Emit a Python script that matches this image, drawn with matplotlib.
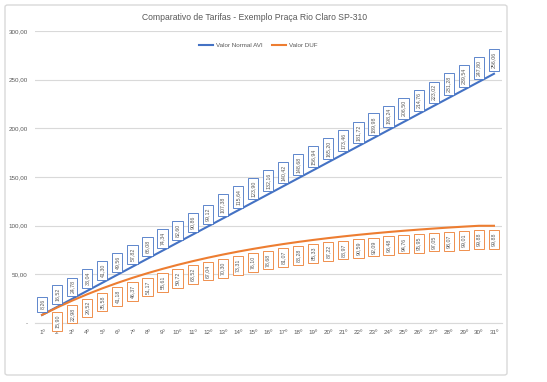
import matplotlib.pyplot as plt
import matplotlib.patches as mpatches

# dados do gráfico
dias = [f"{i}º" for i in range(1, 32)]
valor_avi = [8.26, 16.52, 24.78, 33.04, 41.30, 49.56, 57.82, 66.08, 74.34, 82.60,
             90.86, 99.12, 107.38, 115.64, 123.90, 132.16, 140.42, 148.68, 156.94, 165.20,
             173.46, 181.72, 189.98, 198.24, 206.50, 214.76, 223.02, 231.28, 239.54, 247.80,
             256.06]
valor_duf = [8.26, 15.90, 22.98, 29.52, 35.58, 41.18, 46.37, 51.17, 55.61, 59.72,
             63.52, 67.04, 70.30, 73.31, 76.10, 78.68, 81.07, 83.28, 85.33, 87.22,
             88.97, 90.59, 92.09, 93.48, 94.76, 95.95, 97.05, 98.07, 99.01, 99.88,
             99.88]
yticks = [0, 50, 100, 150, 200, 250, 300]

azul = '#4472C4'
laranja = '#ED7D31'
cinza = '#595959'

plt.rcParams['font.family'] = ['Liberation Sans', 'DejaVu Sans']

fig = plt.figure(figsize=(5.47, 3.82), dpi=100)
moldura = mpatches.FancyBboxPatch((5 / 547, 7 / 382), 502 / 547, 370 / 382,
                                  boxstyle='round,pad=0,rounding_size=0.005',
                                  transform=fig.transFigure, fc='white',
                                  ec='#D9D9D9', lw=1.0, zorder=-5)
fig.patches.append(moldura)
ax = fig.add_axes([34.5 / 547, 59 / 382, 467 / 547, 292 / 382])
ax.set_facecolor('none')

x = list(range(1, 32))
ax.plot(x, valor_avi, color=azul, lw=1.5, label='Valor Normal AVI', zorder=3)
ax.plot(x, valor_duf, color=laranja, lw=1.5, label='Valor DUF', zorder=3)

def fmt(v):
    return f"{v:.2f}".replace('.', ',')

for xi, v in zip(x, valor_avi):
    ax.annotate(fmt(v), (xi, v), xytext=(0, 4), textcoords='offset points',
                rotation=90, ha='center', va='bottom', fontsize=3.8, color=cinza,
                bbox=dict(boxstyle='square,pad=0.5', fc='white', ec=azul, lw=0.6), zorder=4)
for xi, v in zip(x[1:], valor_duf[1:]):
    ax.annotate(fmt(v), (xi, v), xytext=(0, -5), textcoords='offset points',
                rotation=90, ha='center', va='top', fontsize=3.8, color=cinza,
                bbox=dict(boxstyle='square,pad=0.5', fc='white', ec=laranja, lw=0.6), zorder=4)

ax.set_xlim(0.5, 31.5)
ax.set_ylim(0, 300)
ax.set_xticks(x)
ax.set_xticklabels(dias)
ax.set_yticks(yticks)
ax.set_yticklabels(['-' if t == 0 else fmt(t) for t in yticks])
ax.tick_params(axis='x', length=0, labelsize=4.5, labelcolor=cinza, pad=5)
ax.tick_params(axis='y', length=0, labelsize=4.5, labelcolor=cinza, pad=5)
ax.grid(axis='y', color='#D9D9D9', lw=0.8)
for s in ['top', 'right', 'left']:
    ax.spines[s].set_visible(False)
ax.spines['bottom'].set_color('#D9D9D9')

fig.text(255 / 547, 1 - 17 / 382, 'Comparativo de Tarifas - Exemplo Praça Rio Claro SP-310',
         ha='center', va='center', fontsize=6.2, color=cinza)
ax.legend(loc='center', bbox_to_anchor=(258 / 547, 1 - 45 / 382), bbox_transform=fig.transFigure,
          ncol=2, frameon=False, fontsize=4.5, handlelength=2.3, columnspacing=1.5,
          handletextpad=0.4, labelcolor=cinza)

plt.savefig('out.png', dpi=100)
